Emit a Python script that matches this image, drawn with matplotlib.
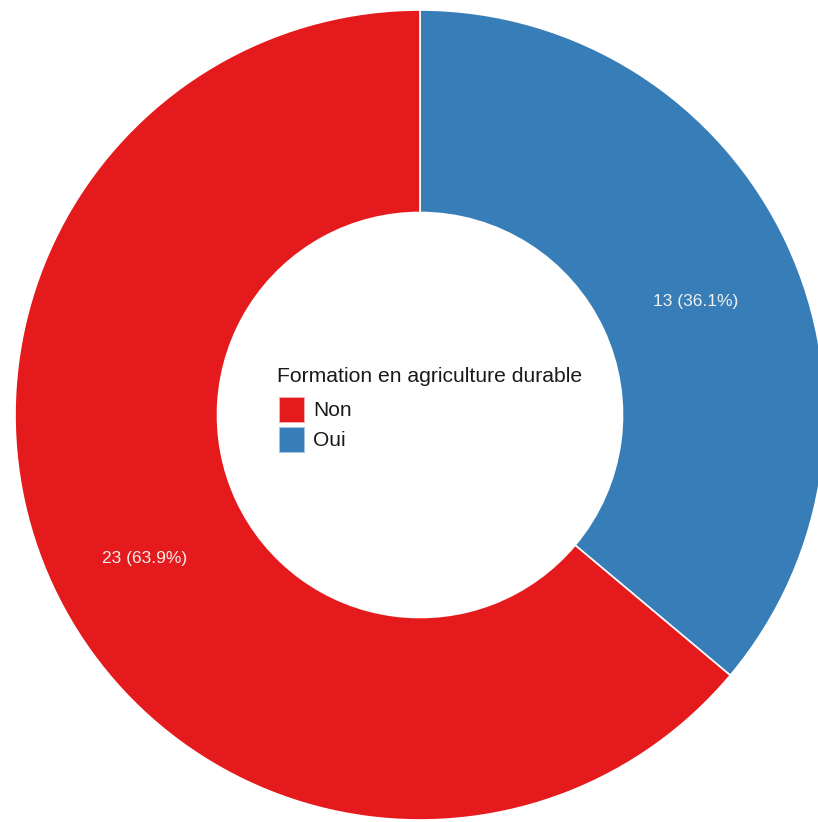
import matplotlib.pyplot as plt
import matplotlib.patches as mpatches
import numpy as np

plt.rcParams['font.family'] = ['Liberation Sans', 'DejaVu Sans']

# données
categories = ['Non', 'Oui']
effectifs = [23, 13]
couleurs = {'Non': '#E41A1C', 'Oui': '#377EB8'}
titre_legende = 'Formation en agriculture durable'

W, H = 818, 822
fig = plt.figure(figsize=(W / 100, H / 100), dpi=100)
ax = fig.add_axes([0, 0, 1, 1])

# ordre de tracé : Oui depuis midi dans le sens horaire, puis Non
ordre = ['Oui', 'Non']
vals = [effectifs[categories.index(c)] for c in ordre]
total = sum(vals)
wedges, _ = ax.pie(vals, colors=[couleurs[c] for c in ordre], startangle=90,
                   counterclock=False, radius=1,
                   wedgeprops=dict(width=0.5, edgecolor='white', linewidth=1.2))

# étiquettes au milieu de l'anneau (un peu décalées vers le bas)
for w, c, v in zip(wedges, ordre, vals):
    ang = np.deg2rad((w.theta1 + w.theta2) / 2)
    r = 0.75
    ax.annotate(f'{v} ({100 * v / total:.1f}%)', (r * np.cos(ang), r * np.sin(ang)),
                xytext=(0, -11), textcoords='offset points',
                ha='center', va='center', color='#f0f0f0', fontsize=12.5)

# cadrage : centre à (420, 415) px, rayon 405 px
R = 405
ax.set_xlim(-420 / R, (W - 420) / R)
ax.set_ylim(-(H - 415) / R, 415 / R)
ax.set_aspect('equal')
ax.axis('off')

# légende au centre
def fy(py):
    return 1 - py / H

fig.text(277 / W, fy(376), titre_legende, ha='left', va='center',
         fontsize=15.2, color='#1a1a1a')
for i, c in enumerate(categories):
    top = 397 + i * 30
    rect = mpatches.Rectangle((279 / W, fy(top + 25)), 25 / W, 25 / H,
                              transform=fig.transFigure, facecolor=couleurs[c],
                              edgecolor='#f0b0b0' if c == 'Non' else '#a8c4e0',
                              linewidth=0.6)
    fig.patches.append(rect)
    fig.text(313 / W, fy(top + 13), c, ha='left', va='center',
             fontsize=15, color='#1a1a1a')

fig.savefig('out.png', dpi=100, facecolor='white')
